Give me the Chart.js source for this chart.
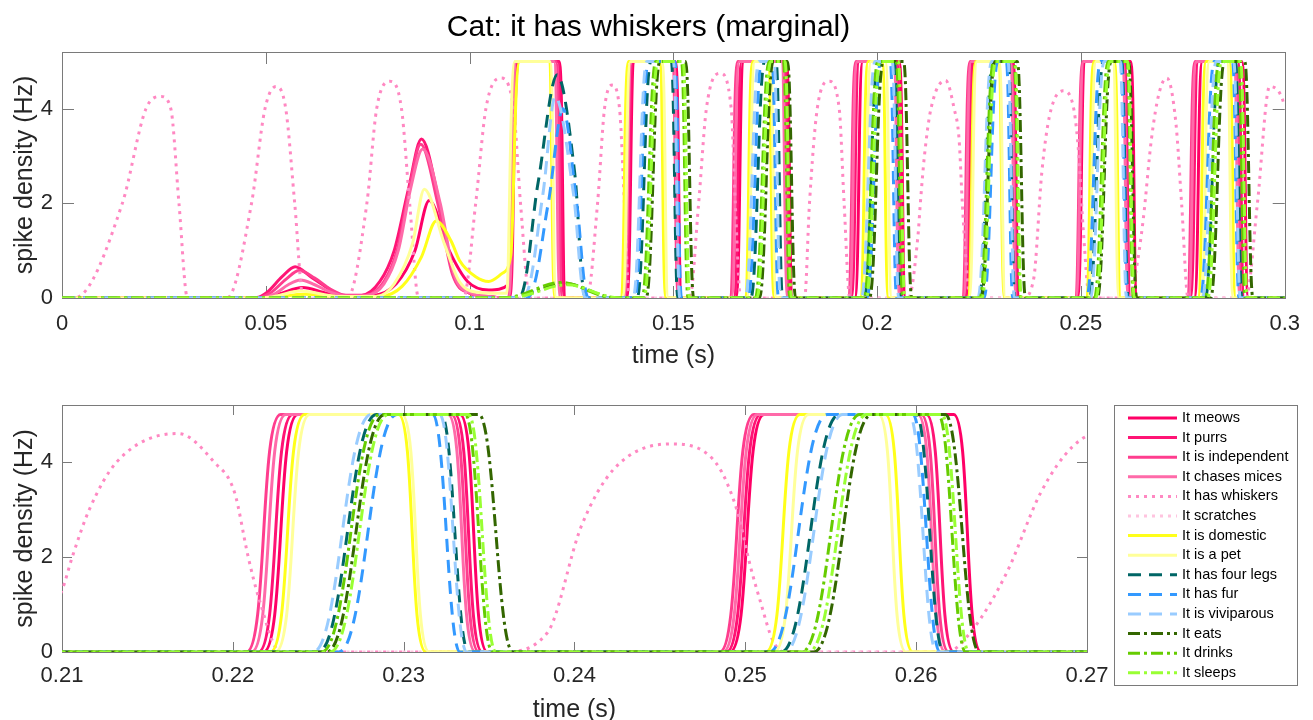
<!DOCTYPE html>
<html>
<head>
<meta charset="utf-8">
<title>Cat: it has whiskers (marginal)</title>
<script src="https://cdn.jsdelivr.net/npm/chart.js@4.4.1/dist/chart.umd.min.js"></script>
<style>
  html, body { margin: 0; padding: 0; background: #fff; overflow: hidden; }
  #wrap { position: relative; width: 1313px; height: 720px; }
  canvas { position: absolute; left: 0; }
  #top { top: 0; }
  #bottom { top: 380px; }
</style>
</head>
<body>
<div id="wrap">
  <canvas id="top" width="1313" height="380"></canvas>
  <canvas id="bottom" width="1313" height="350"></canvas>
</div>
<script>
// ---- data: [time (s), spike density (Hz)] ----
const meows = [
  [0,0],[0.047,0],[0.053,0.08],[0.059,0.22],[0.065,0.1],[0.070,0.04],[0.076,0.05],[0.082,0.3],
  [0.0866,1.0],[0.0901,2.06],[0.0950,1.0],[0.0995,0.35],[0.1047,0.17],[0.1098,0.3],[0.1122,5],
  [0.1220,5],[0.1236,0],
  [0.1385,0],[0.1405,5],[0.1505,5],[0.1521,0],
  [0.1653,0],[0.1673,5],[0.1777,5],[0.1793,0],
  [0.1945,0],[0.1965,5],[0.2054,5],[0.2070,0],
  [0.2218,0],[0.2238,5],[0.2333,5],[0.2349,0],
  [0.2491,0],[0.2511,5],[0.2622,5],[0.2638,0],
  [0.2778,0],[0.2798,5],[0.2895,5],[0.2911,0],[0.3,0]
];
const purrs = [
  [0,0],[0.046,0],[0.050,0.1],[0.054,0.45],[0.0572,0.66],[0.061,0.45],[0.065,0.22],[0.069,0.06],
  [0.0735,0.06],[0.078,0.35],[0.0815,1.0],[0.085,2.3],[0.0882,3.36],[0.0926,2.0],[0.096,0.5],
  [0.100,0.1],[0.105,0.03],[0.1098,0],[0.1118,5],
  [0.1217,5],[0.1233,0],
  [0.1382,0],[0.1402,5],[0.1502,5],[0.1518,0],
  [0.1648,0],[0.1668,5],[0.1772,5],[0.1788,0],
  [0.1936,0],[0.1956,5],[0.2048,5],[0.2064,0],
  [0.2215,0],[0.2235,5],[0.2330,5],[0.2346,0],
  [0.2489,0],[0.2509,5],[0.2606,5],[0.2622,0],
  [0.2768,0],[0.2788,5],[0.2885,5],[0.2901,0],[0.3,0]
];
const independent = [
  [0,0],[0.046,0],[0.051,0.1],[0.055,0.4],[0.0582,0.58],[0.062,0.42],[0.066,0.18],[0.070,0.05],
  [0.0745,0.06],[0.079,0.35],[0.0822,1.0],[0.0852,2.3],[0.0880,3.25],[0.0922,2.0],[0.0958,0.5],
  [0.100,0.1],[0.105,0.03],[0.1093,0],[0.1113,5],
  [0.1212,5],[0.1228,0],
  [0.1376,0],[0.1396,5],[0.1497,5],[0.1513,0],
  [0.1638,0],[0.1658,5],[0.1768,5],[0.1784,0],
  [0.1928,0],[0.1948,5],[0.2044,5],[0.2060,0],
  [0.2208,0],[0.2228,5],[0.2328,5],[0.2344,0],
  [0.2485,0],[0.2505,5],[0.2603,5],[0.2619,0],
  [0.2760,0],[0.2780,5],[0.2879,5],[0.2895,0],[0.3,0]
];
const chasesMices = [
  [0,0],[0.047,0],[0.052,0.08],[0.0555,0.28],[0.0585,0.38],[0.062,0.28],[0.066,0.12],[0.070,0.04],
  [0.0745,0.05],[0.079,0.3],[0.0825,1.0],[0.0855,2.3],[0.0885,3.15],[0.0928,2.0],[0.0962,0.5],
  [0.1005,0.1],[0.105,0.03],[0.1095,0],[0.1115,5],
  [0.1207,5],[0.1223,0],
  [0.1378,0],[0.1398,5],[0.1500,5],[0.1516,0],
  [0.1642,0],[0.1662,5],[0.1765,5],[0.1781,0],
  [0.1931,0],[0.1951,5],[0.2040,5],[0.2056,0],
  [0.2211,0],[0.2231,5],[0.2326,5],[0.2342,0],
  [0.2487,0],[0.2507,5],[0.2601,5],[0.2617,0],
  [0.2763,0],[0.2783,5],[0.2875,5],[0.2891,0],[0.3,0]
];
const whiskers = [
  [0,0],[0.003,0],[0.0148,2.0],[0.0206,4.0],[0.0243,4.26],[0.0267,4.0],[0.0287,2.0],[0.0308,0],
  [0.0405,0],[0.0465,2.0],[0.0498,4.0],[0.0525,4.47],[0.0549,4.0],[0.0571,2.0],[0.0592,0],
  [0.0700,0],[0.0748,2.0],[0.0772,4.0],[0.0804,4.58],[0.0833,4.0],[0.0853,2.0],[0.0875,0],
  [0.0985,0],[0.1015,2.0],[0.1040,4.0],[0.1076,4.65],[0.1108,4.0],[0.1125,2.0],[0.1148,0],
  [0.1288,0],[0.1314,2.0],[0.1331,4.0],[0.1350,4.5],[0.1368,4.0],[0.1380,2.0],[0.1392,0],
  [0.1540,0],[0.1562,2.0],[0.1581,4.0],[0.1615,4.75],[0.1642,4.0],[0.1652,2.0],[0.1665,0],
  [0.1822,0],[0.1834,2.0],[0.1853,4.0],[0.1882,4.58],[0.1907,4.0],[0.1919,2.0],[0.1933,0],
  [0.2077,0],[0.2100,1.3],[0.2106,2.0],[0.2116,3.0],[0.2132,4.0],[0.2168,4.6],[0.2189,4.0],
  [0.2201,3.36],[0.2209,2.0],[0.2215,1.16],[0.2228,0],
  [0.2357,0],[0.2384,0.4],[0.2404,2.65],[0.2423,3.85],[0.2456,4.38],[0.2481,4.06],[0.2495,3.0],
  [0.2503,1.8],[0.2509,1.04],[0.2516,0.25],[0.2523,0],
  [0.2618,0],[0.2633,0.47],[0.2653,1.67],[0.2673,3.36],[0.2692,4.34],[0.2711,4.65],[0.2733,3.7],
  [0.2747,2.0],[0.2763,0],
  [0.2905,0],[0.2933,2.0],[0.2963,4.47],[0.3000,4.05],[0.3030,2.5]
];
const scratches = [[0,0],[0.3,0]];
const domestic = [
  [0,0],[0.048,0],[0.0595,0.08],[0.070,0.02],[0.078,0.03],[0.0835,0.25],[0.0882,0.87],[0.0918,1.63],
  [0.0955,1.2],[0.0975,0.8],[0.1015,0.45],[0.1047,0.35],[0.1080,0.52],[0.1101,0.9],[0.1123,5],
  [0.1194,5],[0.1210,0],
  [0.1370,0],[0.1390,5],[0.1466,5],[0.1482,0],
  [0.1675,0],[0.1695,5],[0.1732,5],[0.1748,0],
  [0.1958,0],[0.1978,5],[0.2012,5],[0.2028,0],
  [0.2222,0],[0.2242,5],[0.2297,5],[0.2313,0],
  [0.2512,0],[0.2532,5],[0.2582,5],[0.2598,0],
  [0.2787,0],[0.2807,5],[0.2864,5],[0.2880,0],[0.3,0]
];
const aPet = [
  [0,0],[0.048,0],[0.0585,0.15],[0.068,0.03],[0.077,0.03],[0.0815,0.3],[0.086,1.15],[0.0889,2.3],
  [0.0938,1.15],[0.0975,0.35],[0.102,0.12],[0.1065,0.1],[0.1091,0.1],[0.1111,5],
  [0.1197,5],[0.1213,0],
  [0.1375,0],[0.1395,5],[0.1472,5],[0.1488,0],
  [0.1680,0],[0.1700,5],[0.1737,5],[0.1753,0],
  [0.1965,0],[0.1985,5],[0.2020,5],[0.2036,0],
  [0.2225,0],[0.2245,5],[0.2299,5],[0.2315,0],
  [0.2517,0],[0.2537,5],[0.2578,5],[0.2594,0],
  [0.2795,0],[0.2815,5],[0.2858,5],[0.2874,0],[0.3,0]
];
const fourLegs = [
  [0,0],[0.1120,0],[0.1168,2.43],[0.1215,4.72],[0.1258,2.64],[0.1285,0],
  [0.1411,0],[0.1445,5],[0.1495,5],[0.1511,0],
  [0.1690,0],[0.1724,5],[0.1752,5],[0.1768,0],
  [0.1968,0],[0.2002,5],[0.2042,5],[0.2058,0],
  [0.2250,0],[0.2284,5],[0.2322,5],[0.2338,0],
  [0.2521,0],[0.2555,5],[0.2600,5],[0.2616,0],
  [0.2805,0],[0.2839,5],[0.2879,5],[0.2895,0],[0.3,0]
];
const fur = [
  [0,0],[0.1140,0],[0.1193,2.0],[0.1229,4.0],[0.1263,2.0],[0.1292,0],
  [0.1405,0],[0.1439,5],[0.1504,5],[0.1520,0],
  [0.1683,0],[0.1717,5],[0.1742,5],[0.1758,0],
  [0.1975,0],[0.2009,5],[0.2032,5],[0.2048,0],
  [0.2262,0],[0.2296,5],[0.2317,5],[0.2333,0],
  [0.2514,0],[0.2548,5],[0.2598,5],[0.2614,0],
  [0.2793,0],[0.2827,5],[0.2872,5],[0.2888,0],[0.3,0]
];
const viviparous = [
  [0,0],[0.1130,0],[0.1180,2.2],[0.1210,4.26],[0.1255,2.2],[0.1285,0],
  [0.1401,0],[0.1435,5],[0.1500,5],[0.1516,0],
  [0.1676,0],[0.1710,5],[0.1747,5],[0.1763,0],
  [0.1961,0],[0.1995,5],[0.2037,5],[0.2053,0],
  [0.2247,0],[0.2281,5],[0.2321,5],[0.2337,0],
  [0.2523,0],[0.2557,5],[0.2596,5],[0.2612,0],
  [0.2798,0],[0.2832,5],[0.2875,5],[0.2891,0],[0.3,0]
];
const eats = [
  [0,0],[0.1080,0],[0.1235,0.30],[0.1370,0],
  [0.1433,0],[0.1467,5],[0.1530,5],[0.1550,0],
  [0.1711,0],[0.1745,5],[0.1780,5],[0.1800,0],
  [0.1981,0],[0.2015,5],[0.2065,5],[0.2085,0],
  [0.2255,0],[0.2289,5],[0.2344,5],[0.2364,0],
  [0.2540,0],[0.2574,5],[0.2617,5],[0.2637,0],
  [0.2818,0],[0.2852,5],[0.2902,5],[0.2922,0],[0.3,0]
];
const drinks = [
  [0,0],[0.1075,0],[0.1225,0.33],[0.1365,0],
  [0.1423,0],[0.1457,5],[0.1520,5],[0.1536,0],
  [0.1701,0],[0.1735,5],[0.1770,5],[0.1786,0],
  [0.1968,0],[0.2002,5],[0.2047,5],[0.2063,0],
  [0.2252,0],[0.2286,5],[0.2336,5],[0.2352,0],
  [0.2533,0],[0.2567,5],[0.2613,5],[0.2629,0],
  [0.2805,0],[0.2839,5],[0.2887,5],[0.2903,0],[0.3,0]
];
const sleeps = [
  [0,0],[0.1085,0],[0.1240,0.28],[0.1375,0],
  [0.1428,0],[0.1462,5],[0.1524,5],[0.1540,0],
  [0.1705,0],[0.1739,5],[0.1774,5],[0.1790,0],
  [0.1973,0],[0.2007,5],[0.2052,5],[0.2068,0],
  [0.2257,0],[0.2291,5],[0.2338,5],[0.2354,0],
  [0.2537,0],[0.2571,5],[0.2615,5],[0.2631,0],
  [0.2811,0],[0.2845,5],[0.2892,5],[0.2908,0],[0.3,0]
];

const labels = ['It meows', 'It purrs', 'It is independent', 'It chases mices', 'It has whiskers',
  'It scratches', 'It is domestic', 'It is a pet', 'It has four legs', 'It has fur',
  'It is viviparous', 'It eats', 'It drinks', 'It sleeps'];
const seriesData = [meows, purrs, independent, chasesMices, whiskers, scratches, domestic, aPet,
  fourLegs, fur, viviparous, eats, drinks, sleeps];
const levels = [0, 5];   // baseline and saturated rate

const topTicksX = [0, 0.05, 0.1, 0.15, 0.2, 0.25, 0.3];
const bottomTicksX = [0.21, 0.22, 0.23, 0.24, 0.25, 0.26, 0.27];
const ticksY = [0, 2, 4];

// ---- styles ----
const SOLID = [], DOTTED = [3, 5], DASHED = [13, 8], DASHDOT = [12, 4, 3, 4];
const styles = [
  { color: '#ff0066', dash: SOLID, knee: 0.6 },
  { color: '#ff1475', dash: SOLID, knee: 0.6 },
  { color: '#ff3d8e', dash: SOLID, knee: 0.6 },
  { color: '#ff6aa9', dash: SOLID, knee: 0.6 },
  { color: '#ff88c2', dash: DOTTED, knee: 0 },
  { color: '#ffc4df', dash: DOTTED, knee: 0 },
  { color: '#ffff1a', dash: SOLID, knee: 0.6 },
  { color: '#ffff99', dash: SOLID, knee: 0.6 },
  { color: '#006666', dash: DASHED, knee: 0.45 },
  { color: '#3399ff', dash: DASHED, knee: 0.45 },
  { color: '#99ccff', dash: DASHED, knee: 0.45 },
  { color: '#336600', dash: DASHDOT, knee: 0.45 },
  { color: '#66cc00', dash: DASHDOT, knee: 0.45 },
  { color: '#99ff33', dash: DASHDOT, knee: 0.45 }
];

const FONT = '"Liberation Sans", Arial, Helvetica, sans-serif';
const TEXT = '#262626';
const AXIS = '#7a7a7a';
Chart.defaults.font.family = FONT;
Chart.defaults.color = TEXT;

function buildDatasets() {
  return seriesData.map((pts, i) => ({
    label: labels[i],
    data: pts.map(([x, y]) => ({ x, y })),
    borderColor: styles[i].color,
    borderDash: styles[i].dash,
    knee: styles[i].knee,
    borderWidth: 3,
    pointRadius: 0,
    fill: false,
    cubicInterpolationMode: 'monotone',
    order: -i
  }));
}

// stretch the bezier handles at the flat corners so the switches look like sigmoids
const kneePlugin = {
  id: 'knee',
  beforeDatasetDraw(chart, args) {
    const k = chart.data.datasets[args.index].knee;
    if (!k) return;
    const meta = args.meta;
    meta.dataset.updateControlPoints(chart.chartArea, 'x');
    const pts = meta.data;
    for (let i = 1; i < pts.length - 1; i++) {
      const p = pts[i];
      if (!levels.includes(meta._parsed[i].y)) continue;
      if (Math.abs(p.cp1y - p.y) > 0.01 || Math.abs(p.cp2y - p.y) > 0.01) continue;
      p.cp1x = p.x - k * (p.x - pts[i - 1].x);
      p.cp2x = p.x + k * (pts[i + 1].x - p.x);
    }
  }
};

// box around the plot with inward ticks, matlab style
function framePlugin(tickLen) {
  return {
    id: 'frame',
    beforeDatasetsDraw(chart) {
      const { ctx, chartArea: a, scales } = chart;
      ctx.save();
      ctx.strokeStyle = AXIS;
      ctx.lineWidth = 1;
      ctx.setLineDash([]);
      ctx.strokeRect(Math.round(a.left) + 0.5, Math.round(a.top) + 0.5,
        Math.round(a.right - a.left), Math.round(a.bottom - a.top));
      ctx.beginPath();
      scales.x.ticks.forEach(t => {
        const px = Math.round(scales.x.getPixelForValue(t.value)) + 0.5;
        ctx.moveTo(px, a.bottom); ctx.lineTo(px, a.bottom - tickLen);
        ctx.moveTo(px, a.top); ctx.lineTo(px, a.top + tickLen);
      });
      scales.y.ticks.forEach(t => {
        const py = Math.round(scales.y.getPixelForValue(t.value)) + 0.5;
        ctx.moveTo(a.left, py); ctx.lineTo(a.left + tickLen, py);
        ctx.moveTo(a.right, py); ctx.lineTo(a.right - tickLen, py);
      });
      ctx.stroke();
      ctx.restore();
    }
  };
}

// boxed legend to the right of the lower plot
const boxLegend = {
  id: 'boxLegend',
  afterDraw(chart) {
    const { ctx } = chart;
    const left = 1114, top = 25, w = 183, h = 280;
    ctx.save();
    ctx.fillStyle = '#fff';
    ctx.fillRect(left, top, w, h);
    ctx.strokeStyle = AXIS;
    ctx.lineWidth = 1;
    ctx.setLineDash([]);
    ctx.strokeRect(left + 0.5, top + 0.5, w, h);
    ctx.font = '14.5px ' + FONT;
    ctx.textBaseline = 'middle';
    chart.data.datasets.forEach((ds, i) => {
      const y = top + 13 + i * 19.6;
      ctx.strokeStyle = ds.borderColor;
      ctx.lineWidth = 3;
      ctx.setLineDash(ds.borderDash);
      ctx.beginPath();
      ctx.moveTo(left + 14, y);
      ctx.lineTo(left + 63, y);
      ctx.stroke();
      ctx.fillStyle = '#000';
      ctx.fillText(ds.label, left + 68, y);
    });
    ctx.restore();
  }
};

function axisOptions(xMin, xMax, xTicks, xPad, xHeight, xTitlePad) {
  return {
    x: {
      type: 'linear', min: xMin, max: xMax,
      afterBuildTicks: s => { s.ticks = xTicks.map(v => ({ value: v })); },
      ticks: { font: { size: 22 }, color: TEXT, padding: xPad, maxRotation: 0,
        callback: v => String(+v.toFixed(3)) },
      grid: { display: false, drawTicks: false },
      border: { display: false },
      title: { display: true, text: 'time (s)', font: { size: 25 }, color: TEXT,
        padding: { top: 0, bottom: xTitlePad } },
      afterFit: s => { s.height = xHeight; }
    },
    y: {
      min: 0, max: 5.2,
      afterBuildTicks: s => { s.ticks = ticksY.map(v => ({ value: v })); },
      ticks: { font: { size: 22 }, color: TEXT, padding: 9 },
      grid: { display: false, drawTicks: false },
      border: { display: false },
      title: { display: true, text: 'spike density (Hz)', font: { size: 25 }, color: TEXT,
        padding: { top: 10, bottom: 0 } },
      afterFit: s => { s.width = 62; }
    }
  };
}

new Chart(document.getElementById('top'), {
  type: 'line',
  data: { datasets: buildDatasets() },
  options: {
    responsive: false,
    animation: false,
    layout: { padding: { left: 0, right: 16, top: 0, bottom: 0 } },
    plugins: {
      legend: { display: false },
      tooltip: { enabled: false },
      title: {
        display: true,
        text: 'Cat: it has whiskers (marginal)',
        color: '#000',
        font: { size: 30, weight: 'normal' },
        padding: { top: 10, bottom: 6 }
      }
    },
    scales: axisOptions(0, 0.3, topTicksX, 13, 82, 9)
  },
  plugins: [framePlugin(12), kneePlugin]
});

new Chart(document.getElementById('bottom'), {
  type: 'line',
  data: { datasets: buildDatasets() },
  options: {
    responsive: false,
    animation: false,
    layout: { padding: { left: 0, right: 226, top: 25, bottom: 0 } },
    plugins: {
      legend: { display: false },
      tooltip: { enabled: false }
    },
    scales: axisOptions(0.21, 0.27, bottomTicksX, 11, 78, 5)
  },
  plugins: [framePlugin(10), kneePlugin, boxLegend]
});
</script>
</body>
</html>
